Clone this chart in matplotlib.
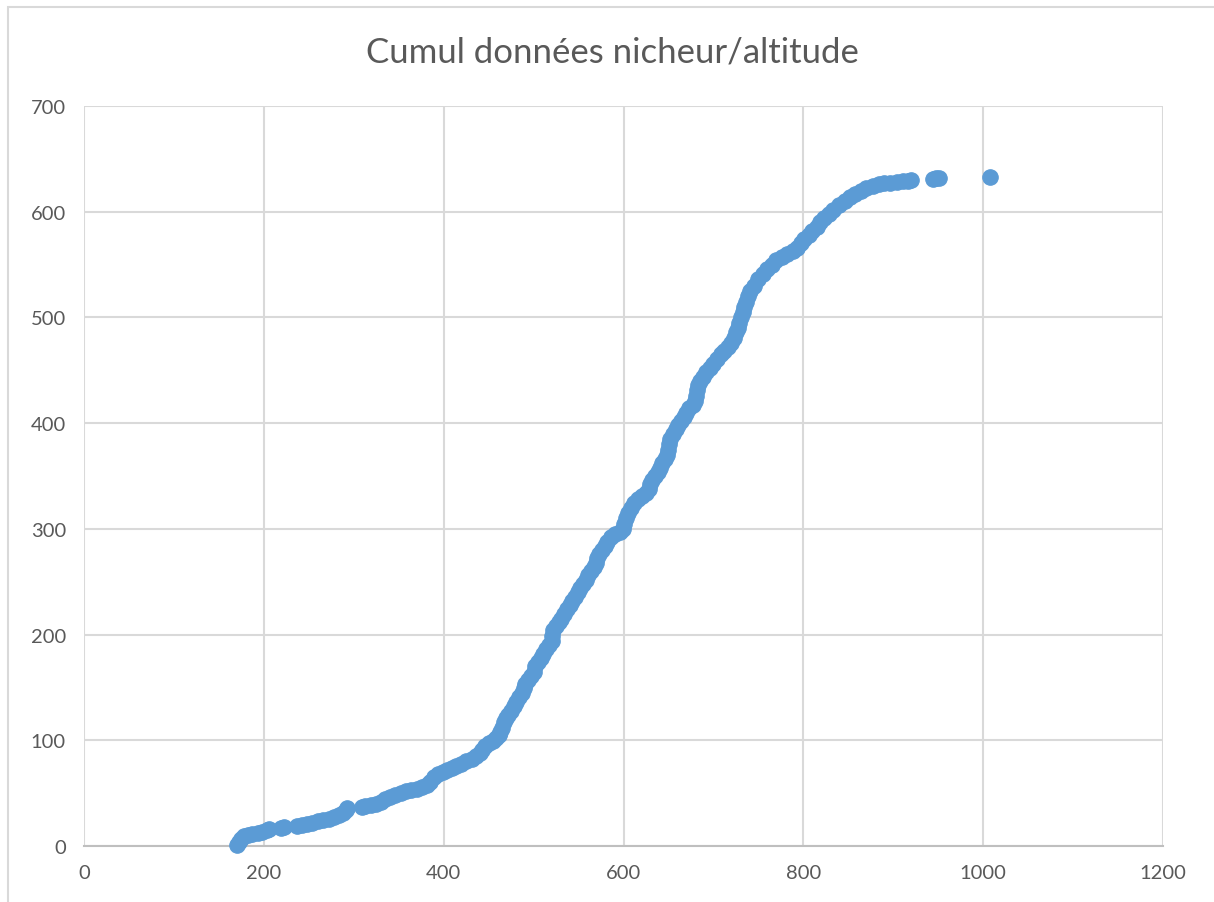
import matplotlib
matplotlib.use("Agg")
from matplotlib import pyplot as plt
from matplotlib.patches import Rectangle

# altitude (m) and cumulative number of breeding records
altitude = [
    170, 172, 175, 178, 182, 187, 193, 198, 203, 206,
    219, 222, 237, 242, 248, 254, 260, 266, 272, 278,
    284, 288, 291, 293, 309, 313, 319, 325, 330, 335,
    340, 346, 352, 358, 364, 370, 376, 381, 385, 389,
    394, 399, 404, 409, 414, 419, 425, 431, 436, 440,
    443, 446, 450, 455, 458, 461, 463, 465, 467, 469,
    472, 475, 478, 481, 484, 487, 489, 491, 494, 497,
    500, 502, 505, 508, 511, 514, 517, 520, 521, 522,
    525, 528, 531, 534, 537, 540, 543, 546, 549, 552,
    555, 558, 561, 564, 567, 569, 571, 573, 576, 579,
    582, 586, 591, 596, 599, 601, 603, 605, 608, 612,
    616, 621, 625, 628, 630, 632, 635, 638, 641, 643,
    646, 648, 650, 651, 652, 655, 658, 661, 664, 667,
    670, 673, 677, 679, 681, 682, 683, 685, 688, 692,
    696, 700, 704, 708, 712, 716, 720, 723, 725, 727,
    729, 731, 733, 734, 736, 738, 741, 745, 750, 755,
    760, 765, 770, 776, 782, 788, 793, 797, 801, 806,
    810, 815, 819, 823, 828, 833, 840, 846, 852, 858,
    864, 870, 877, 884, 890, 896, 904, 911, 916, 920,
    944, 948, 951, 1008,
]
cumul = [
    1, 4, 7, 9, 10, 11, 12, 13, 15, 16,
    17, 18, 19, 20, 21, 22, 24, 25, 26, 27,
    29, 31, 34, 36, 37, 38, 39, 40, 42, 44,
    46, 48, 50, 52, 53, 54, 56, 58, 61, 65,
    68, 70, 72, 74, 76, 78, 80, 82, 85, 88,
    91, 95, 97, 99, 102, 105, 108, 112, 117, 121,
    124, 128, 132, 136, 141, 145, 149, 153, 157, 161,
    165, 170, 174, 178, 182, 186, 190, 194, 199, 204,
    208, 212, 215, 219, 224, 228, 232, 236, 240, 244,
    248, 252, 256, 260, 264, 268, 272, 276, 280, 284,
    288, 292, 295, 297, 300, 305, 310, 315, 320, 324,
    328, 331, 334, 338, 342, 346, 350, 354, 358, 362,
    366, 370, 375, 380, 385, 390, 394, 398, 402, 406,
    410, 414, 417, 421, 426, 431, 436, 440, 444, 448,
    452, 456, 461, 465, 468, 472, 476, 481, 486, 490,
    495, 500, 505, 510, 515, 520, 525, 530, 536, 541,
    546, 550, 554, 557, 560, 563, 566, 570, 574, 578,
    582, 586, 590, 594, 598, 602, 606, 610, 614, 617,
    620, 622, 624, 626, 627, 627, 628, 629, 629, 630,
    631, 632, 632, 633,
]

x_ticks = [0, 200, 400, 600, 800, 1000, 1200]
y_ticks = [0, 100, 200, 300, 400, 500, 600, 700]


def main():
    plt.rcParams["font.family"] = ["Lato", "DejaVu Sans"]
    text_color = "#595959"
    grid_color = "#D9D9D9"

    fig = plt.figure(figsize=(12.14, 9.03), dpi=100)
    ax = fig.add_axes([84 / 1214, 1 - 847 / 903, 1079 / 1214, 740 / 903])

    # light frame around the chart area
    fig.patches.append(Rectangle((8 / 1214, -0.1), 1.2, (903 - 8) / 903 + 0.1,
                                 transform=fig.transFigure, fill=False,
                                 edgecolor=grid_color, linewidth=1.5))

    ax.scatter(altitude, cumul, s=125, color="#5B9BD5", edgecolor="#5B9BD5",
               linewidth=0.75, zorder=3, clip_on=False)

    ax.set_xlim(0, 1200)
    ax.set_ylim(0, 700)
    ax.set_xticks(x_ticks)
    ax.set_yticks(y_ticks)
    ax.grid(True, color=grid_color, linewidth=1.5, zorder=0)
    ax.set_axisbelow(True)
    for side in ["left", "right", "top"]:
        ax.spines[side].set_visible(False)
    ax.spines["bottom"].set_color("#BFBFBF")
    ax.spines["bottom"].set_linewidth(1.5)
    ax.tick_params(length=0, labelsize=14.5, labelcolor=text_color)
    ax.tick_params(axis="x", pad=13)
    ax.tick_params(axis="y", pad=13)

    fig.text(612 / 1214, 1 - 53 / 903, "Cumul données nicheur/altitude",
             ha="center", va="center", fontsize=25, color=text_color)

    fig.savefig("out.png", dpi=100)


if __name__ == "__main__":
    main()
